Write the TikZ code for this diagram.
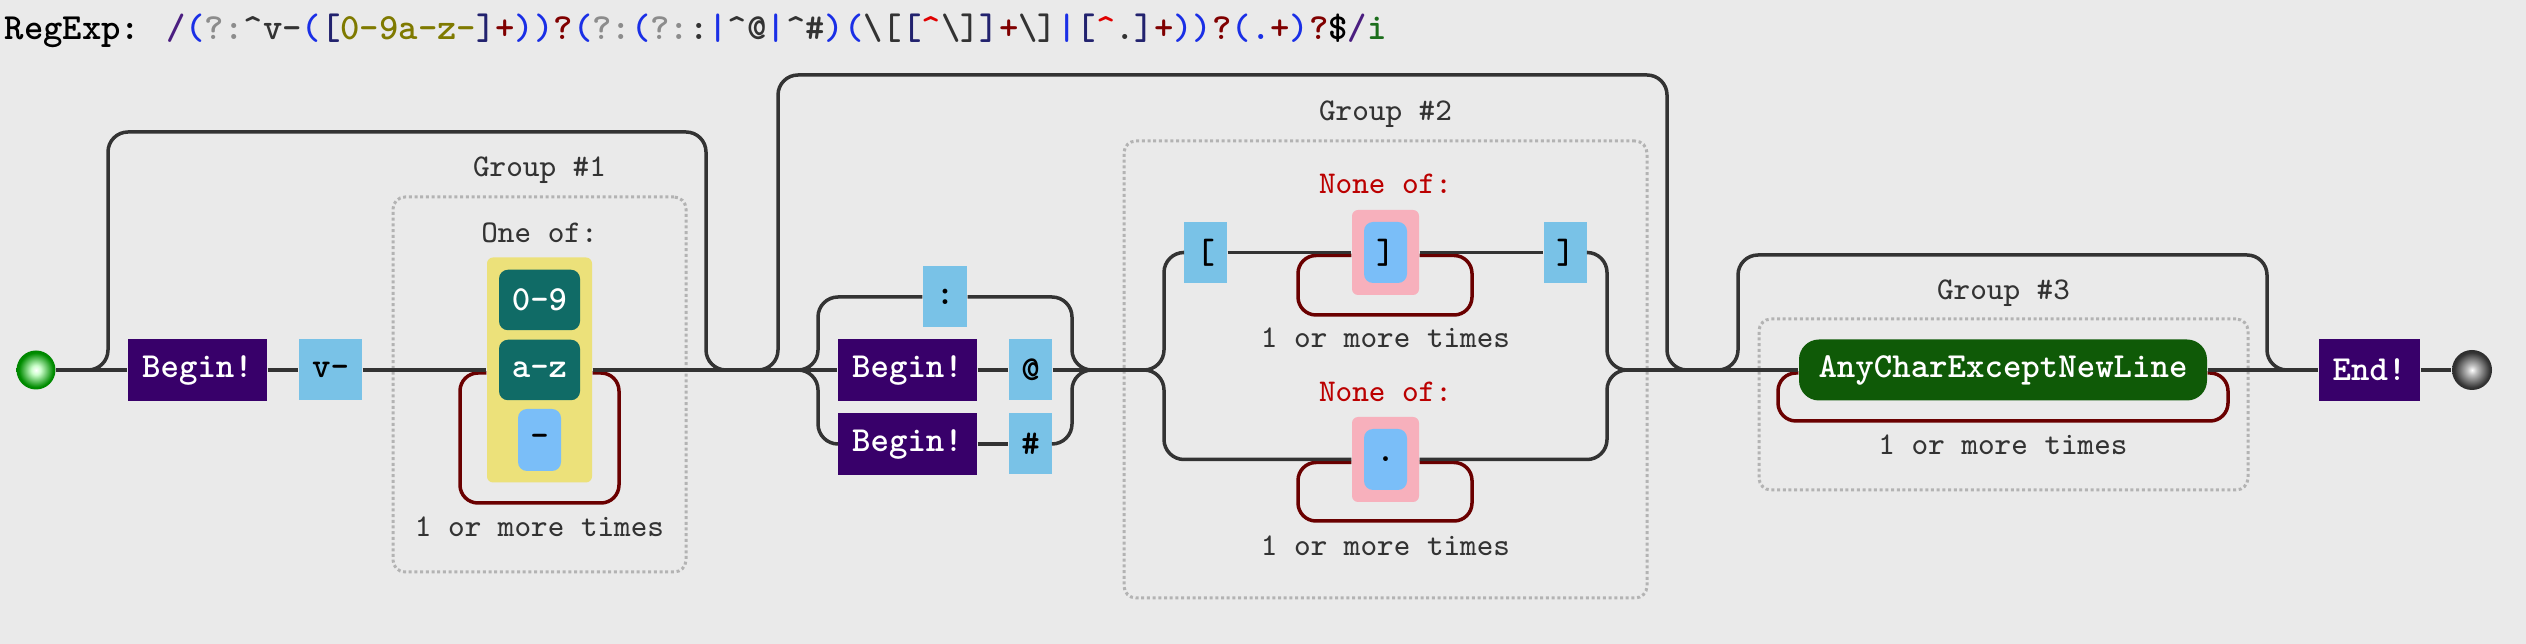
\documentclass[tikz,border=0pt]{standalone}
\usepackage{xcolor}
\usepackage{tikz}
\usetikzlibrary{positioning}

% colours
\definecolor{bgc}{HTML}{EAEAEA}
\definecolor{linec}{HTML}{333333}
\definecolor{loopc}{HTML}{6A0000}
\definecolor{anchorc}{HTML}{38006A}
\definecolor{litc}{HTML}{79C2E7}
\definecolor{rangec}{HTML}{106B66}
\definecolor{setc}{HTML}{ECE17A}
\definecolor{negc}{HTML}{F7B0BC}
\definecolor{charc}{HTML}{7ABEF8}
\definecolor{anyfillc}{HTML}{0F5A07}
\definecolor{groupc}{HTML}{B3B3B3}
\definecolor{notec}{HTML}{333333}
\definecolor{nonec}{HTML}{BB0000}
% header colours
\definecolor{hsl}{HTML}{4B1E80}
\definecolor{hpa}{HTML}{1A2FE6}
\definecolor{hgr}{HTML}{8C8C8C}
\definecolor{hlt}{HTML}{333333}
\definecolor{hst}{HTML}{22226E}
\definecolor{hrg}{HTML}{7F7A00}
\definecolor{hqt}{HTML}{800000}
\definecolor{hng}{HTML}{E00000}
\definecolor{hfl}{HTML}{1C6E1C}

\newcommand{\boxfnt}{\fontsize{10}{12}\selectfont\ttfamily\bfseries}
\newcommand{\notefnt}{\fontsize{9}{11}\selectfont\ttfamily}
\newcommand{\headfnt}{\fontsize{10.5}{12}\selectfont\ttfamily\bfseries}
\newcommand{\hc}[2]{\textcolor{#1}{#2}}

\pgfdeclareradialshading{startball}{\pgfpoint{0bp}{0bp}}{color(0bp)=(white); color(6bp)=(green!20!white); color(22bp)=(green!55!black); color(50bp)=(green!30!black)}
\pgfdeclareradialshading{endball}{\pgfpoint{0bp}{0bp}}{color(0bp)=(white); color(6bp)=(black!25); color(22bp)=(black!80); color(50bp)=(black)}

\begin{document}
\begin{tikzpicture}[
    x=0.1mm, y=-0.1mm,
    % Styles
    wire/.style={draw=linec, line width=0.35mm},
    skipwire/.style={wire, rounded corners=2mm},
    loopwire/.style={draw=loopc, line width=0.35mm, rounded corners=1.8mm},
    anchorbox/.style={rectangle, fill=anchorc, text=white, font=\boxfnt, minimum height=6.2mm, inner sep=0pt},
    litbox/.style={rectangle, fill=litc, text=black, font=\boxfnt, minimum width=4.3mm, minimum height=6.1mm, inner sep=0pt},
    rangebox/.style={rectangle, fill=rangec, text=white, font=\boxfnt, rounded corners=0.9mm, minimum width=8.1mm, minimum height=6.05mm, inner sep=0pt},
    setbox/.style={rectangle, fill=setc, rounded corners=0.6mm, inner sep=0pt},
    negbox/.style={rectangle, fill=negc, rounded corners=0.6mm, minimum width=6.7mm, minimum height=8.5mm, inner sep=0pt},
    charbox/.style={rectangle, fill=charc, text=black, font=\boxfnt, rounded corners=0.9mm, minimum width=4.3mm, minimum height=6.1mm, inner sep=0pt},
    groupbox/.style={rectangle, draw=groupc, line width=0.3mm, dash pattern=on 0.3mm off 0.27mm, rounded corners=1.2mm, inner sep=0pt},
    note/.style={font=\notefnt, text=notec, anchor=base, inner sep=0pt}
]

% Background
\path[use as bounding box, fill=bgc] (0,0) rectangle (2526,644);

% Header
\node[anchor=base west, inner sep=0pt, font=\headfnt] (hdr) at (4,40) {RegExp: %
\hc{hsl}{/}\hc{hpa}{(}\hc{hgr}{?:}\hc{hlt}{\textasciicircum v-}\hc{hpa}{(}\hc{hst}{[}\hc{hrg}{0-9a-z-}\hc{hst}{]}\hc{hqt}{+}\hc{hpa}{))}\hc{hqt}{?}%
\hc{hpa}{(}\hc{hgr}{?:}\hc{hpa}{(}\hc{hgr}{?:}\hc{hlt}{:}\hc{hpa}{|}\hc{hlt}{\textasciicircum @}\hc{hpa}{|}\hc{hlt}{\textasciicircum\#}\hc{hpa}{)}%
\hc{hpa}{(}\hc{hlt}{\textbackslash[}\hc{hst}{[}\hc{hng}{\textasciicircum}\hc{hlt}{\textbackslash]}\hc{hst}{]}\hc{hqt}{+}\hc{hlt}{\textbackslash]}%
\hc{hpa}{|}\hc{hst}{[}\hc{hng}{\textasciicircum}\hc{hlt}{.}\hc{hst}{]}\hc{hqt}{+}\hc{hpa}{))}\hc{hqt}{?}%
\hc{hpa}{(.}\hc{hqt}{+}\hc{hpa}{)}\hc{hqt}{?}\hc{black}{\$}\hc{hsl}{/}\hc{hfl}{i}};

% Group frames
\node[groupbox, minimum width=29.3mm, minimum height=37.5mm] (g1) at (539.5,384.5) {};
\node[note] (g1t) at (539.5,177) {Group \#1};
\node[groupbox, minimum width=52.3mm, minimum height=45.7mm] (g2) at (1385.5,369.5) {};
\node[note] (g2t) at (1385.5,121) {Group \#2};
\node[groupbox, minimum width=48.9mm, minimum height=17.1mm] (g3) at (2003.5,404.5) {};
\node[note] (g3t) at (2003.5,300) {Group \#3};

% Start, group 1
\node[circle, shading=startball, minimum size=3.9mm, inner sep=0pt] (start) at (36,370) {};
\node[anchorbox, minimum width=13.9mm] (beg1) at (197.5,370) {Begin!};
\node[litbox, minimum width=6.3mm] (vdash) at (330.5,370) {v-};
\node[note] (oneof) at (539.5,243) {One of:};
\node[setbox, minimum width=10.5mm, minimum height=22.5mm] (cset) at (539.5,370) {};
\node[rangebox] (r09) at (539.5,300) {0-9};
\node[rangebox] (raz) at (539.5,370) {a-z};
\node[charbox, minimum height=6.2mm] (hyph) at (539.5,440) {-};
\node[note] (rep1) at (539.5,537) {1 or more times};

% Alternation after group 1
\node[litbox, minimum width=4.4mm] (colon) at (945,297) {:};
\node[anchorbox, minimum width=13.9mm] (beg2) at (907.5,370) {Begin!};
\node[litbox] (atlit) at (1030.5,370) {@};
\node[anchorbox, minimum width=13.9mm] (beg3) at (907.5,444) {Begin!};
\node[litbox] (hash) at (1030.5,444) {\#};

% Group 2
\node[litbox] (lbrk) at (1205.5,252.5) {[};
\node[note, text=nonec] (none1) at (1385.5,194) {None of:};
\node[negbox] (neg1) at (1385.5,252.5) {};
\node[charbox] (rbin) at (1385.5,252.5) {]};
\node[note] (rep2) at (1385.5,348) {1 or more times};
\node[litbox] (rbrk) at (1565.5,252.5) {]};
\node[note, text=nonec] (none2) at (1385.5,402) {None of:};
\node[negbox] (neg2) at (1385.5,459.5) {};
\node[charbox] (dotin) at (1385.5,459.5) {.};
\node[note] (rep3) at (1385.5,556) {1 or more times};

% Group 3, end
\node[rectangle, fill=anyfillc, text=white, font=\boxfnt, rounded corners=2mm, minimum width=40.8mm, minimum height=6.1mm, inner sep=0pt] (anyc) at (2003,370) {AnyCharExceptNewLine};
\node[note] (rep4) at (2003,455) {1 or more times};
\node[anchorbox, minimum width=10.1mm] (endb) at (2369.5,370) {End!};
\node[circle, shading=endball, minimum size=4mm, inner sep=0pt] (stop) at (2472,370) {};

% Junctions on the main line
\coordinate (sk1a) at (88,370);
\coordinate (sk1b) at (726,370);
\coordinate (sk2a) at (758,370);
\coordinate (sk2b) at (1687,370);
\coordinate (sk3a) at (1718,370);
\coordinate (sk3b) at (2287,370);
\coordinate (alt1s) at (798,370);
\coordinate (alt1m) at (1092,370);
\coordinate (alt2s) at (1144,370);
\coordinate (alt2m) at (1627,370);

% Repeat loops
\draw[loopwire] ([yshift=-0.3mm]cset.east) -| (619,503) -| (460,373) -- ([yshift=-0.3mm]cset.west);
\draw[loopwire] ([yshift=-0.3mm]neg1.east) -| (1472,315) -| (1298,255.5) -- ([yshift=-0.3mm]neg1.west);
\draw[loopwire] ([yshift=-0.3mm]neg2.east) -| (1472,521) -| (1298,462.5) -- ([yshift=-0.3mm]neg2.west);
\draw[loopwire] ([yshift=-0.3mm]anyc.east) -| (2228,421) -| (1778,373) -- ([yshift=-0.3mm]anyc.west);

% Main line
\draw[wire] (start) -- (beg1);
\draw[wire] (beg1) -- (vdash);
\draw[wire] (vdash) -- (cset);
\draw[wire] (cset) -- (alt1s);
\draw[wire] (alt1m) -- (alt2s);
\draw[wire] (alt2m) -- (anyc);
\draw[wire] (anyc) -- (endb);
\draw[wire] (endb) -- (stop);

% Optional skips
\draw[skipwire] (sk1a) -| (108,132) -| (706,370) -- (sk1b);
\draw[skipwire] (sk2a) -| (778,75) -| (1667,370) -- (sk2b);
\draw[skipwire] (sk3a) -| (1738,255) -| (2267,370) -- (sk3b);

% Alternation 1
\draw[skipwire] (alt1s) -| (818,297) -- (colon.west);
\draw[skipwire] (colon.east) -| (1072,370) -- (alt1m);
\draw[wire] (alt1s) -- (beg2);
\draw[wire] (beg2) -- (atlit);
\draw[wire] (atlit) -- (alt1m);
\draw[skipwire] (alt1s) -| (818,444) -- (beg3.west);
\draw[wire] (beg3) -- (hash);
\draw[skipwire] (hash.east) -| (1072,370) -- (alt1m);

% Alternation 2
\draw[skipwire] (alt2s) -| (1164,252.5) -- (lbrk.west);
\draw[wire] (lbrk) -- (neg1);
\draw[wire] (neg1) -- (rbrk);
\draw[skipwire] (rbrk.east) -| (1607,370) -- (alt2m);
\draw[skipwire] (alt2s) -| (1164,459.5) -- (neg2.west);
\draw[skipwire] (neg2.east) -| (1607,370) -- (alt2m);

\end{tikzpicture}
\end{document}
